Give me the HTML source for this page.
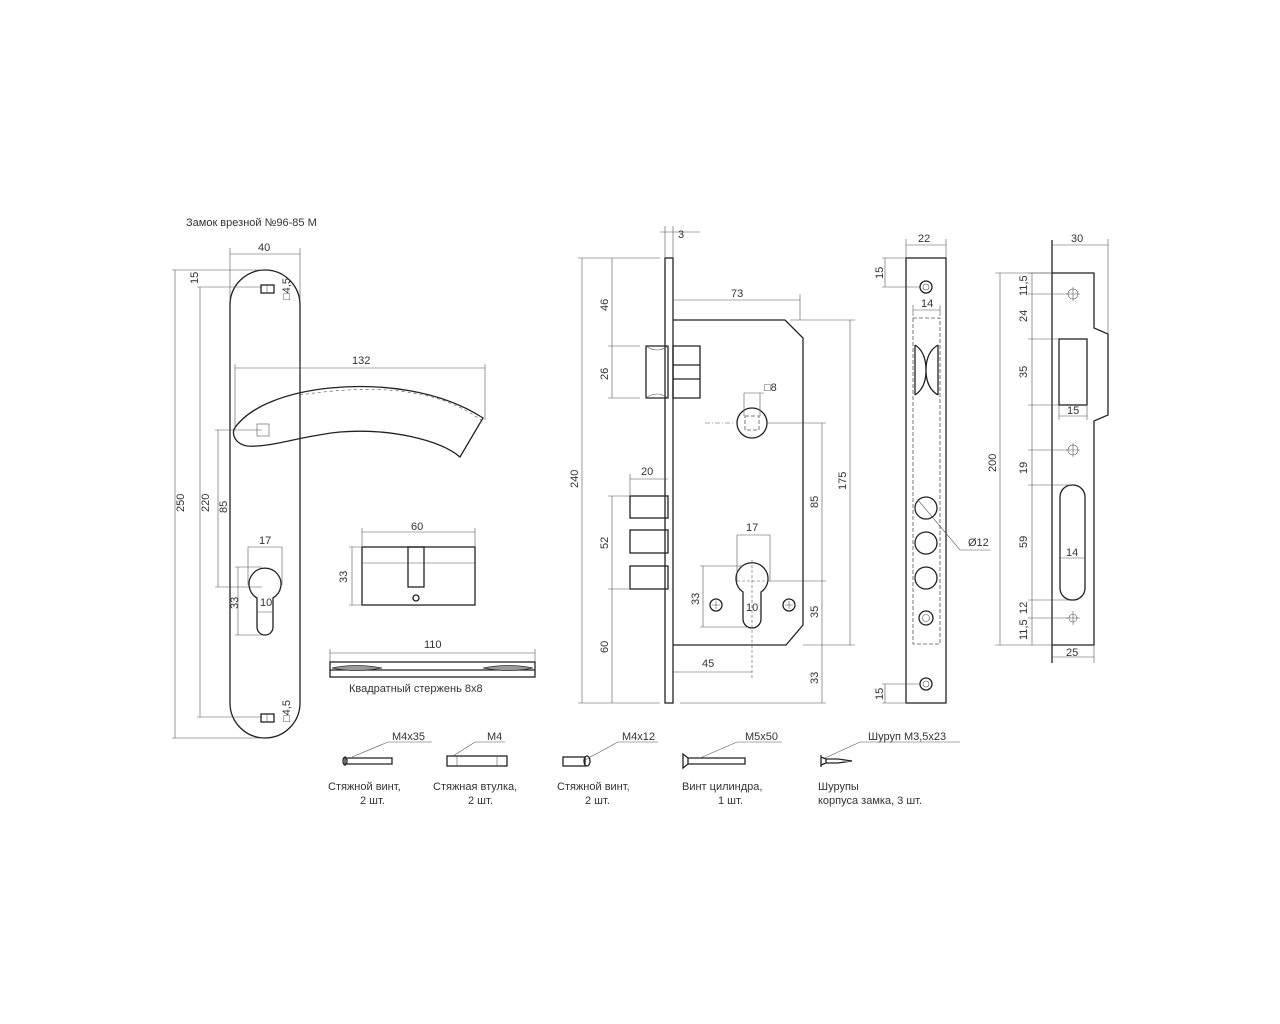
<!DOCTYPE html>
<html><head><meta charset="utf-8"><style>
html,body{margin:0;padding:0;background:#fff;}
svg{display:block;}
text{font-family:"Liberation Sans","DejaVu Sans",sans-serif;font-size:11px;fill:#333;}
.l{stroke:#222;stroke-width:1.3;fill:none;}
.t{stroke:#555;stroke-width:0.6;fill:none;}
.d{stroke:#555;stroke-width:0.8;fill:none;stroke-dasharray:4 2;}
</style></head><body>
<svg width="1280" height="1024" viewBox="0 0 1280 1024" xmlns="http://www.w3.org/2000/svg">
<text x="186" y="226">Замок врезной №96-85 М</text>

<!-- Handle plate -->
<path class="l" d="M230,305 A35,35 0 0 1 300,305 L300,703 A35,35 0 0 1 230,703 Z"/>
<path class="t" d="M230,248 V300 M300,248 V300 M230,254 H300"/>
<text x="258" y="251">40</text>
<path class="t" d="M172,270 H262 M172,738 H262 M175,270 V738 M197,287 H262 M197,717 H262 M200,287 V717 M215,430 H262 M215,587 H262 M218,430 V587"/>
<text transform="translate(184,512) rotate(-90)">250</text>
<text transform="translate(209,512) rotate(-90)">220</text>
<text transform="translate(214,512) rotate(-90)" x="0" y="0"> </text>
<text transform="translate(227,513) rotate(-90)">85</text>
<text transform="translate(198,284) rotate(-90)">15</text>
<rect class="l" x="261" y="285" width="13" height="8"/><path class="t" d="M267,285 V293"/>
<rect class="l" x="261" y="714" width="13" height="8"/><path class="t" d="M267,714 V722"/>
<text transform="translate(290,300) rotate(-90)">□4,5</text>
<text transform="translate(290,722) rotate(-90)">□4,5</text>
<!-- lever -->
<path class="l" d="M234,429 C250,405 290,392 330,388 C380,383 440,390 483,418 L460,457 C440,440 390,428 340,432 C300,436 270,448 247,446 C236,444 232,436 234,429 Z" fill="#fff"/>
<path class="t" d="M300,395 C380,383 440,390 481,420" stroke-dasharray="3 3"/>
<rect class="t" x="257" y="424" width="12" height="12"/>
<path class="t" d="M235,368 H485 M235,364 V430 M485,364 V420"/>
<text x="352" y="364">132</text>
<!-- keyhole -->
<path class="l" d="M257,598 A16,16 0 1 1 273,598 L273,627 A8,8 0 0 1 257,627 Z"/>
<path class="t" d="M248,547 H282 M248,547 V585 M282,547 V585 M235,567 H262 M235,635 H262 M238,567 V635 M257,612 H273"/>
<text x="259" y="544">17</text>
<text transform="translate(238,609) rotate(-90)">33</text>
<text x="260" y="606">10</text>

<!-- Cylinder -->
<rect class="l" x="362" y="547" width="113" height="58"/>
<path class="t" d="M362,563 H475"/>
<rect class="l" x="408" y="547" width="16" height="40"/>
<circle class="l" cx="416" cy="598" r="3"/>
<path class="t" d="M362,532 H475 M362,528 V547 M475,528 V547 M349,547 H362 M349,605 H362 M352,547 V605"/>
<text x="411" y="530">60</text>
<text transform="translate(347,583) rotate(-90)">33</text>

<!-- Square rod -->
<path class="t" d="M330,653 H535 M330,649 V677 M535,649 V677"/>
<text x="424" y="648">110</text>
<rect class="l" x="330" y="662" width="205" height="15"/>
<path class="l" d="M330,670 H535"/>
<path d="M332,668 Q356,663 382,668 Q356,673 332,668 Z" fill="#999" stroke="#333" stroke-width="0.8"/>
<path d="M483,668 Q509,663 533,668 Q509,673 483,668 Z" fill="#999" stroke="#333" stroke-width="0.8"/>
<text x="349" y="692">Квадратный стержень 8х8</text>

<!-- Lock body -->
<rect class="l" x="665" y="258" width="8" height="445"/>
<path class="l" d="M673,320 H785 L803,338 V625 L786,645 H673"/>
<path class="l" d="M646,346 H668 V398 H646 Z M673,346 H700 V398 H673 Z M673,365 H700 M673,379 H700"/>
<path class="t" d="M646,346 Q657,354 668,346 M646,398 Q657,390 668,398"/>
<rect class="l" x="630" y="496" width="38" height="22"/>
<rect class="l" x="630" y="530" width="38" height="23"/>
<rect class="l" x="630" y="566" width="38" height="23"/>
<circle class="l" cx="752" cy="423" r="15"/>
<rect class="d" x="745" y="416" width="14" height="14"/>
<path class="t" d="M705,423 H735" stroke-dasharray="5 2 1 2"/>
<path class="l" d="M743,592 A16,16 0 1 1 761,592 L761,619 A9,9 0 0 1 743,619 Z"/>
<path class="t" d="M752,560 V680 M737,581 H767" stroke-dasharray="3 2"/>
<circle class="l" cx="716" cy="605" r="6"/><circle class="l" cx="789" cy="605" r="6"/>
<path class="t" d="M712,605 H720 M716,601 V609 M785,605 H793 M789,601 V609"/>
<!-- lock dims -->
<path class="t" d="M660,232 H700 M665,226 V258 M673,226 V258"/>
<text x="678" y="238">3</text>
<path class="t" d="M578,258 H660 M578,703 H660 M582,258 V703 M608,346 H640 M608,398 H640 M612,258 V398 M608,496 H630 M608,589 H630 M612,496 V703"/>
<text transform="translate(578,488) rotate(-90)">240</text>
<text transform="translate(608,311) rotate(-90)">46</text>
<text transform="translate(608,380) rotate(-90)">26</text>
<text transform="translate(608,549) rotate(-90)">52</text>
<text transform="translate(608,653) rotate(-90)">60</text>
<path class="t" d="M630,479 H668 M630,474 V496"/>
<text x="641" y="475">20</text>
<path class="t" d="M673,300 H800 M800,294 V320 M790,320 H855 M850,320 V645 M803,645 H855 M767,423 H826 M822,423 V703 M767,581 H826 M680,703 H826"/>
<text x="731" y="297">73</text>
<text transform="translate(846,490) rotate(-90)">175</text>
<text transform="translate(818,508) rotate(-90)">85</text>
<text transform="translate(818,618) rotate(-90)">35</text>
<text transform="translate(818,684) rotate(-90)">33</text>
<path class="t" d="M673,672 H752"/>
<text x="702" y="667">45</text>
<path class="t" d="M737,535 H770 M737,535 V581 M770,535 V581 M700,566 H743 M700,627 H748 M703,566 V627"/>
<text x="746" y="531">17</text>
<text transform="translate(699,605) rotate(-90)">33</text>
<text x="746" y="611">10</text>
<path class="t" d="M744,393 V416 M760,393 V416 M744,393 H764"/>
<text x="764" y="391">□8</text>

<!-- Faceplate -->
<rect class="l" x="906" y="258" width="40" height="445"/>
<path class="t" d="M906,239 V258 M946,239 V258 M906,245 H946"/>
<text x="918" y="242">22</text>
<path class="t" d="M882,258 H906 M882,287 H920 M885,258 V287 M882,684 H920 M882,703 H906 M885,684 V703"/>
<text transform="translate(883,279) rotate(-90)">15</text>
<text transform="translate(883,700) rotate(-90)">15</text>
<circle class="l" cx="926" cy="287" r="6"/><circle class="t" cx="926" cy="287" r="3"/>
<circle class="l" cx="926" cy="684" r="6"/><circle class="t" cx="926" cy="684" r="3"/>
<rect class="d" x="913" y="318" width="27" height="326"/>
<path class="t" d="M913,310 H940 M913,305 V316 M940,305 V316"/>
<text x="921" y="307">14</text>
<path class="l" d="M915,345 V395 M938,345 V395 M915,345 Q926,352 926,370 Q926,388 915,395 M938,345 Q926,352 926,370 Q926,388 938,395"/>
<circle class="l" cx="926" cy="508" r="11"/>
<circle class="l" cx="926" cy="543" r="11"/>
<circle class="l" cx="926" cy="578" r="11"/>
<circle class="l" cx="926" cy="618" r="7"/><circle class="t" cx="926" cy="618" r="3.5"/>
<path class="t" d="M918,500 L960,550 H990"/>
<text x="968" y="546">Ø12</text>

<!-- Strike plate -->
<path class="l" d="M1052,240 V663"/>
<path class="l" d="M1052,273 H1094 V328 L1108,334 V415 L1094,421 V645 H1052"/>
<rect class="l" x="1059" y="339" width="28" height="66"/>
<rect class="l" x="1060" y="485" width="25" height="115" rx="12"/>
<circle class="t" cx="1073" cy="294" r="5"/><path class="t" d="M1066,294 H1080 M1073,287 V301"/>
<circle class="t" cx="1073" cy="450" r="5"/><path class="t" d="M1066,450 H1080 M1073,443 V457"/>
<circle class="t" cx="1073" cy="618" r="4"/><path class="t" d="M1066,618 H1080 M1073,611 V625"/>
<path class="t" d="M1052,245 H1108 M1108,239 V334"/>
<text x="1071" y="242">30</text>
<path class="t" d="M995,273 H1052 M995,645 H1052 M1000,273 V645"/>
<text transform="translate(996,472) rotate(-90)">200</text>
<path class="t" d="M1028,273 H1052 M1028,294 H1068 M1028,339 H1059 M1028,405 H1059 M1028,450 H1068 M1028,485 H1070 M1028,600 H1070 M1028,618 H1068 M1032,273 V645"/>
<text transform="translate(1027,296) rotate(-90)">11,5</text>
<text transform="translate(1027,322) rotate(-90)">24</text>
<text transform="translate(1027,378) rotate(-90)">35</text>
<text transform="translate(1027,474) rotate(-90)">19</text>
<text transform="translate(1027,548) rotate(-90)">59</text>
<text transform="translate(1027,614) rotate(-90)">12</text>
<text transform="translate(1027,640) rotate(-90)">11,5</text>
<path class="t" d="M1059,405 V420 M1087,405 V420 M1059,416 H1087"/>
<text x="1067" y="414">15</text>
<path class="t" d="M1060,558 H1085"/>
<text x="1066" y="556">14</text>
<path class="t" d="M1052,657 H1094 M1094,645 V663"/>
<text x="1066" y="656">25</text>

<!-- Fasteners -->
<path class="l" d="M345,757 V765 M347,758 H392 V764 H347"/>
<ellipse class="l" cx="345" cy="761" rx="2" ry="4"/>
<path class="t" d="M352,757 L388,742 H432"/>
<text x="392" y="740">М4х35</text>
<rect class="l" x="447" y="756" width="60" height="10"/>
<path class="t" d="M457,756 V766 M497,756 V766 M453,756 L475,742 H505"/>
<text x="487" y="740">М4</text>
<rect class="l" x="563" y="757" width="22" height="9"/>
<ellipse class="l" cx="587" cy="761" rx="3" ry="5"/>
<path class="t" d="M585,760 L618,742 H658"/>
<text x="622" y="740">М4х12</text>
<path class="l" d="M683,754 L688,758 V764 L683,768 Z M688,758 H745 V764 H688"/>
<path class="t" d="M700,758 L737,742 H782"/>
<text x="745" y="740">М5х50</text>
<path class="l" d="M821,755 V767 M821,757 L826,759 V763 L821,765 M826,759 H838 L852,761 L838,763 H826"/>
<path class="t" d="M825,758 L860,742 H960"/>
<text x="868" y="740">Шуруп М3,5х23</text>
<text x="328" y="790">Стяжной винт,</text><text x="360" y="804">2 шт.</text>
<text x="433" y="790">Стяжная втулка,</text><text x="468" y="804">2 шт.</text>
<text x="557" y="790">Стяжной винт,</text><text x="585" y="804">2 шт.</text>
<text x="682" y="790">Винт цилиндра,</text><text x="718" y="804">1 шт.</text>
<text x="818" y="790">Шурупы</text><text x="818" y="804">корпуса замка, 3 шт.</text>
</svg>
</body></html>
